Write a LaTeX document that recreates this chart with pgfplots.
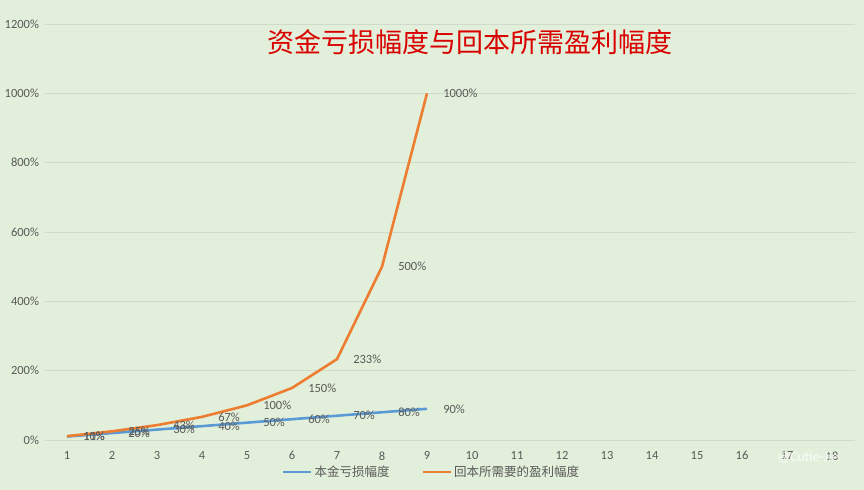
\documentclass[border=0pt]{standalone}
\usepackage{pgfplots}
\pgfplotsset{compat=1.18}
\usepackage{fontspec}
\setmainfont{Carlito}
\newfontfamily\cjk{Noto Sans CJK SC}
\definecolor{bg}{RGB}{226,239,218}
\definecolor{gridc}{RGB}{208,218,202}
\definecolor{txt}{RGB}{89,89,89}
\definecolor{cblue}{RGB}{91,155,213}
\definecolor{corange}{RGB}{237,125,49}
\begin{document}
\begin{tikzpicture}
\fill[bg] (0,0) rectangle (864bp,490bp);
\begin{axis}[
  at={(44.5bp,50bp)}, anchor=south west,
  scale only axis, width=810bp, height=416bp,
  xmin=0.5, xmax=18.5, ymin=0, ymax=1200,
  xtick={1,...,18}, ytick={0,200,...,1200},
  /pgf/number format/.cd, set thousands separator={}, assume math mode=true, /pgfplots/.cd,
  yticklabel={\pgfmathprintnumber{\tick}\%},
  major tick length=0pt,
  ymajorgrids, grid style={color=gridc, line width=0.8bp},
  axis line style={draw=none},
  tick label style={font=\fontsize{12.5bp}{14bp}\selectfont, text=txt},
  xticklabel style={yshift=-8bp},
  yticklabel style={xshift=-2bp},
  clip=false,
  legend columns=2,
  legend style={at={(rel axis cs:0.478,0)}, yshift=-32bp, anchor=center,
    draw=none, fill=none, font=\cjk\fontsize{12.5bp}{14bp}\selectfont, text=txt,
    /tikz/every even column/.append style={column sep=30bp}},
  legend image code/.code={\draw[#1, line width=2.5bp] (0,0) -- (28bp,0);},
  every node near coord/.append style={anchor=west, inner sep=0pt, xshift=15bp,
    font=\fontsize{12.5bp}{14bp}\selectfont, text=txt},
  nodes near coords={\pgfmathprintnumber[fixed,precision=0,set thousands separator={},assume math mode=true]{\pgfplotspointmeta}\%},
]
\addplot[cblue, line width=2.6bp, mark=none] coordinates {
 (1,10) (2,20) (3,30) (4,40) (5,50) (6,60) (7,70) (8,80) (9,90)};
\addlegendentry{本金亏损幅度}
\addplot[corange, line width=2.6bp, mark=none] coordinates {
 (1,11.1) (2,25) (3,42.9) (4,66.7) (5,100) (6,150) (7,233.3) (8,500) (9,1000)};
\addlegendentry{回本所需要的盈利幅度}
\end{axis}
\node[text=red!85!black, font=\cjk\fontsize{27bp}{30bp}\selectfont] at (470bp,448bp) {资金亏损幅度与回本所需盈利幅度};
\node[text=white, font=\fontsize{14bp}{16bp}\selectfont, opacity=0.9] at (808bp,33bp) {@Cutie-Jie};
\pgfresetboundingbox
\useasboundingbox (0,0) rectangle (864bp,490bp);
\end{tikzpicture}
\end{document}
